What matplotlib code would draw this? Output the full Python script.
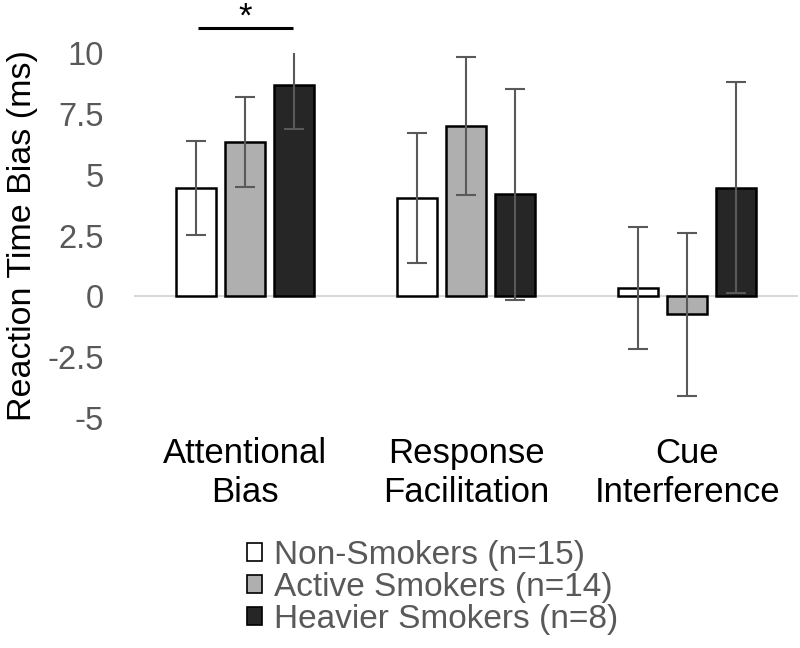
import matplotlib
matplotlib.use("Agg")
from matplotlib import pyplot as plt
from matplotlib.patches import Patch
import numpy as np

plt.rcParams['font.family'] = ['Liberation Sans', 'DejaVu Sans']

# data
categories = ["Attentional\nBias", "Response\nFacilitation", "Cue\nInterference"]
groups = ["Non-Smokers (n=15)", "Active Smokers (n=14)", "Heavier Smokers (n=8)"]
non_smokers = [4.45, 4.05, 0.35]
active_smokers = [6.35, 7.0, -0.73]
heavier_smokers = [8.7, 4.2, 4.47]
non_err = [1.93, 2.68, 2.52]
active_err = [1.85, 2.85, 3.35]
heavier_err = [1.83, 4.33, 4.35]
yticks = [-5, -2.5, 0, 2.5, 5, 7.5, 10]
ytick_labels = ["-5", "-2.5", "0", "2.5", "5", "7.5", "10"]

colors = ["#ffffff", "#afafaf", "#262626"]
series = [non_smokers, active_smokers, heavier_smokers]
errs = [non_err, active_err, heavier_err]

fig = plt.figure(figsize=(8, 6.48), dpi=100)
ax = fig.add_axes([0.168, 0.355, 0.829, 0.563])

x = np.arange(len(categories))
offsets = [-0.222, 0, 0.222]
w = 0.18

ax.axhline(0, color="#d9d9d9", lw=1.5, zorder=1)
for vals, e, c, off in zip(series, errs, colors, offsets):
    ax.bar(x + off, vals, w, color=c, edgecolor="black", linewidth=1.8, zorder=2)
    ax.errorbar(x + off, vals, yerr=e, fmt="none", ecolor="#595959",
                elinewidth=1.5, capsize=7, capthick=1.5, zorder=3)

ax.set_xlim(-0.5, 2.5)
ax.set_ylim(-5, 10)
ax.set_yticks(yticks)
ax.set_yticklabels(ytick_labels, color="#595959", fontsize=23.5)
ax.set_xticks(x)
ax.set_xticklabels(categories, fontsize=25, color="black", linespacing=1.2)
ax.tick_params(length=0, axis="y", pad=22)
ax.tick_params(length=0, axis="x", pad=14)
for s in ax.spines.values():
    s.set_visible(False)
ax.set_ylabel("Reaction Time Bias (ms)", fontsize=24.5, labelpad=7)

# significance marker between non-smokers and heavier smokers
ax.plot([x[0] + offsets[0] + 0.01, x[0] + offsets[2] - 0.005], [11.05, 11.05],
        color="black", lw=2.2, clip_on=False, solid_capstyle="butt")
ax.text(x[0], 11.5, "*", ha="center", va="center", fontsize=25, clip_on=False)

handles = [Patch(facecolor=c, edgecolor="black", linewidth=1.2) for c in colors]
leg = fig.legend(handles, groups, loc="center", bbox_to_anchor=(0.541, 0.093),
                 frameon=False, fontsize=24, handlelength=0.45, handleheight=0.45,
                 handletextpad=0.35, labelspacing=0.03)
for t in leg.get_texts():
    t.set_color("#595959")

fig.savefig("out.png", dpi=100)
